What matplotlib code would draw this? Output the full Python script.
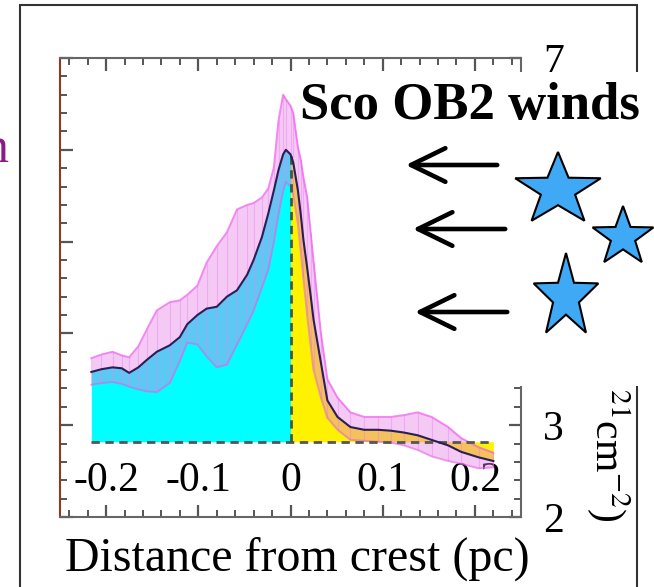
import numpy as np
import matplotlib
matplotlib.use("Agg")
import matplotlib.pyplot as plt
from matplotlib.patches import Rectangle, Polygon, FancyArrowPatch
from matplotlib.ticker import MultipleLocator

plt.rcParams['font.family'] = ['Liberation Serif', 'DejaVu Serif']
plt.rcParams['mathtext.fontset'] = 'stix'
plt.rcParams['axes.unicode_minus'] = False

# column density profile across the crest (x in pc, y in 1e21 cm^-2)
dist = [-0.216, -0.205, -0.193, -0.183, -0.175, -0.165, -0.156, -0.145, -0.131, -0.120,
        -0.112, -0.101, -0.091, -0.080, -0.069, -0.058, -0.047, -0.040, -0.031, -0.024,
        -0.018, -0.013, -0.008, -0.005, 0.000, 0.003, 0.008, 0.011, 0.014, 0.018,
        0.022, 0.025, 0.033, 0.040, 0.051, 0.065, 0.080, 0.095, 0.109, 0.123,
        0.138, 0.153, 0.171, 0.185, 0.204, 0.220]
profile = [3.58, 3.61, 3.63, 3.62, 3.57, 3.63, 3.71, 3.80, 3.87, 3.96,
           4.10, 4.20, 4.27, 4.29, 4.40, 4.47, 4.64, 4.80, 5.05, 5.31,
           5.56, 5.78, 5.95, 6.00, 5.95, 5.86, 5.56, 5.31, 5.02, 4.72,
           4.40, 4.15, 3.68, 3.27, 3.09, 2.98, 2.95, 2.95, 2.94, 2.92,
           2.89, 2.84, 2.78, 2.71, 2.65, 2.61]
upper = [3.73, 3.77, 3.80, 3.76, 3.74, 3.86, 4.04, 4.25, 4.34, 4.36,
         4.42, 4.52, 4.77, 4.95, 5.10, 5.35, 5.40, 5.42, 5.48, 5.58,
         5.81, 6.32, 6.60, 6.55, 6.48, 6.40, 6.03, 5.90, 5.70, 5.49,
         5.09, 4.78, 4.00, 3.50, 3.30, 3.14, 3.09, 3.09, 3.09, 3.11,
         3.14, 3.09, 2.98, 2.86, 2.76, 2.70]
lower = [3.44, 3.46, 3.47, 3.45, 3.42, 3.39, 3.37, 3.36, 3.46, 3.70,
         3.90, 3.88, 3.75, 3.63, 3.66, 3.88, 4.10, 4.25, 4.50, 4.70,
         5.00, 5.30, 5.55, 5.65, 5.60, 5.50, 5.20, 4.90, 4.60, 4.20,
         3.85, 3.60, 3.30, 3.08, 2.95, 2.84, 2.83, 2.82, 2.81, 2.78,
         2.73, 2.66, 2.61, 2.58, 2.53, 2.54]
baseline = 2.82

xticks = [-0.2, -0.1, 0.0, 0.1, 0.2]
xticklabels = ['-0.2', '-0.1', '0', '0.1', '0.2']
yticks = [2, 3, 4, 5, 6, 7]

x = np.array(dist)
y = np.array(profile)

W, H = 654, 587
fig = plt.figure(figsize=(W / 100, H / 100), dpi=100)
ax = fig.add_axes([60 / W, 1 - 517 / H, 461 / W, 459 / H])

# filled halves under the profile
ax.fill_between(x, baseline, y, where=x <= 0, color='#00FFFF', lw=0, zorder=1)
ax.fill_between(x, baseline, y, where=x >= 0, color='#FFF200', lw=0, zorder=1)

# error band
ax.fill_between(x, lower, upper, color='#E478E4', alpha=0.4, lw=0, zorder=2)
ax.vlines(x, lower, upper, color='#F080F0', lw=0.8, alpha=0.45, zorder=2)
ax.plot(x, upper, color='#F060F0', lw=1.4, alpha=0.75, zorder=2)
ax.plot(x, lower, color='#E060E0', lw=1.4, alpha=0.55, zorder=2)

# dashed guides
ax.plot([x[0], x[-1]], [baseline, baseline], color='#555555', lw=2, ls=(0, (3, 2)), zorder=3)
ax.plot([0, 0], [baseline, np.interp(0, x, y)], color='#3f5a3f', lw=2, ls=(0, (3, 2)), zorder=3)

ax.plot(x, y, color='#2b1d55', lw=1.5, zorder=4)

ax.set_xlim(-0.25, 0.25)
ax.set_ylim(2, 7)
ax.set_xticks(xticks)
ax.set_xticklabels(xticklabels)
ax.set_yticks(yticks)
ax.xaxis.set_minor_locator(MultipleLocator(0.02))
ax.yaxis.set_minor_locator(MultipleLocator(0.2))
ax.tick_params(which='both', direction='in', top=True, bottom=True, left=True, right=True,
               labelleft=False, labelright=True, color='#555555')
ax.tick_params(which='major', length=9, width=1.6)
ax.tick_params(which='minor', length=5, width=1.4)
ax.tick_params(axis='x', labelsize=30, pad=-40)
ax.tick_params(axis='y', labelsize=30, pad=16)
for s in ax.spines.values():
    s.set_color('#666666')
    s.set_linewidth(1.5)
ax.spines['left'].set_color('#8a3b1e')

fig.text(297 / W, 1 - 559 / H, 'Distance from crest (pc)', fontsize=34.5,
         ha='center', va='center')

# outer frame of the original figure
fig.add_artist(Rectangle((20 / W, -0.2), 617 / W, 1.2 - 5 / H, transform=fig.transFigure,
                         fill=False, ec='#333333', lw=1.5, zorder=1))

# annotation panel (covers the rest of the underlying figure)
ov = fig.add_axes([395 / W, 1 - 386 / H, 259 / W, 314 / H], zorder=5)
ov.set_xlim(395, 654)
ov.set_ylim(386, 72)
ov.set_facecolor('white')
ov.axis('off')
ov.add_patch(Rectangle((395, 72), 259, 314, fc='white', ec='none', zorder=0))


def star(cx, cy, rx, ry, inner=0.4):
    ang = np.pi / 2 + np.arange(10) * np.pi / 5
    r = np.where(np.arange(10) % 2 == 0, 1.0, inner)
    return np.column_stack([cx + rx * r * np.cos(ang), cy - ry * r * np.sin(ang)])


for cx, cy, rx, ry in [(558, 190, 45, 38), (623, 237, 32, 31), (566, 297, 34, 44)]:
    ov.add_patch(Polygon(star(cx, cy, rx, ry), closed=True, fc='#3fa9f5', ec='black',
                         lw=1.5, zorder=2))

for x0, x1, yy in [(500, 403, 165), (508, 410, 229), (510, 412, 312)]:
    ov.add_patch(FancyArrowPatch((x0, yy), (x1, yy), arrowstyle='->,head_length=0.45,head_width=0.22',
                                 mutation_scale=55, lw=3.3, color='black', capstyle='round',
                                 joinstyle='round', zorder=2))

fig.text(300 / W, 1 - 106 / H, 'Sco OB2 winds', fontsize=38, fontweight='bold',
         ha='left', va='center', zorder=10)

# cut-off pieces of the surrounding figure
fig.text(608 / W, 1 - 455 / H, '$^{21}$cm$^{-2}$)', fontsize=30, rotation=270,
         ha='center', va='center')
fig.text(9 / W, 1 - 150 / H, 'n', fontsize=36, color='#8b1a89', ha='right', va='center')

fig.savefig('out.png', dpi=100)
